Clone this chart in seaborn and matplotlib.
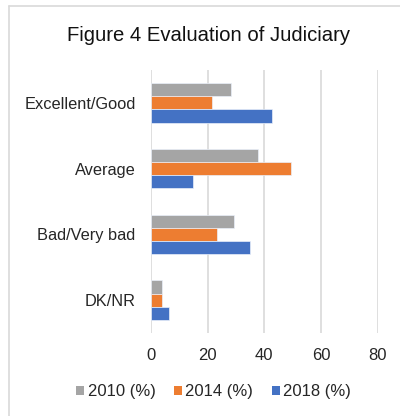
import pandas as pd
import matplotlib.pyplot as plt
import seaborn as sns
from matplotlib.lines import Line2D
from matplotlib.patches import Patch

# Data
categories = ['Excellent/Good', 'Average', 'Bad/Very bad', 'DK/NR']
series = ['2010 (%)', '2014 (%)', '2018 (%)']
vals_2010 = [28.4, 37.8, 29.4, 4.0]
vals_2014 = [21.7, 49.4, 23.4, 4.0]
vals_2018 = [42.8, 15.0, 35.0, 6.2]
colors = ['#A5A5A5', '#ED7D31', '#4472C4']

df = pd.DataFrame({
    'Category': categories * 3,
    'Year': [s for s in series for _ in categories],
    'Value': vals_2010 + vals_2014 + vals_2018,
})

sns.set_style('white')
plt.rcParams['font.family'] = ['Liberation Sans', 'DejaVu Sans']

fig = plt.figure(figsize=(4, 4.16), dpi=100)
ax = fig.add_axes([0.3775, 0.1995, 0.5665, 0.6325])

sns.barplot(data=df, y='Category', x='Value', hue='Year', order=categories,
            hue_order=series, palette=colors, saturation=1, orient='h', width=0.6,
            edgecolor='#EAF0FA', linewidth=0.5, ax=ax, legend=False)

ax.set_xlim(0, 80)
ax.set_ylim(3.5, -0.5)
ax.set_xticks([0, 20, 40, 60, 80])
ax.xaxis.grid(True, color='#D9D9D9', linewidth=1.2)
ax.set_axisbelow(True)
for s in ax.spines.values():
    s.set_visible(False)
ax.tick_params(axis='both', length=0, colors='#262626')
ax.tick_params(axis='x', pad=11, labelsize=12)
ax.tick_params(axis='y', pad=11, labelsize=11.8)
ax.set_xlabel('')
ax.set_ylabel('')

fig.text(0.522, 0.915, 'Figure 4 Evaluation of Judiciary', ha='center', va='center',
         fontsize=14.6, color='#111111')

handles = [Patch(facecolor=c, edgecolor='none') for c in colors]
fig.legend(handles, series, loc='center', bbox_to_anchor=(0.534, 0.058), ncol=3,
           frameon=False, fontsize=12, handlelength=0.5, handleheight=0.5,
           handletextpad=0.2, columnspacing=1.1, labelcolor='#262626')

# outer chart frame (left and top edges visible in the crop)
fig.add_artist(Line2D([0.0225, 0.0225], [0, 0.986], transform=fig.transFigure,
                      color='#D9D9D9', linewidth=1.2))
fig.add_artist(Line2D([0.0225, 1], [0.986, 0.986], transform=fig.transFigure,
                      color='#D9D9D9', linewidth=1.2))

fig.savefig('out.png', dpi=100)
